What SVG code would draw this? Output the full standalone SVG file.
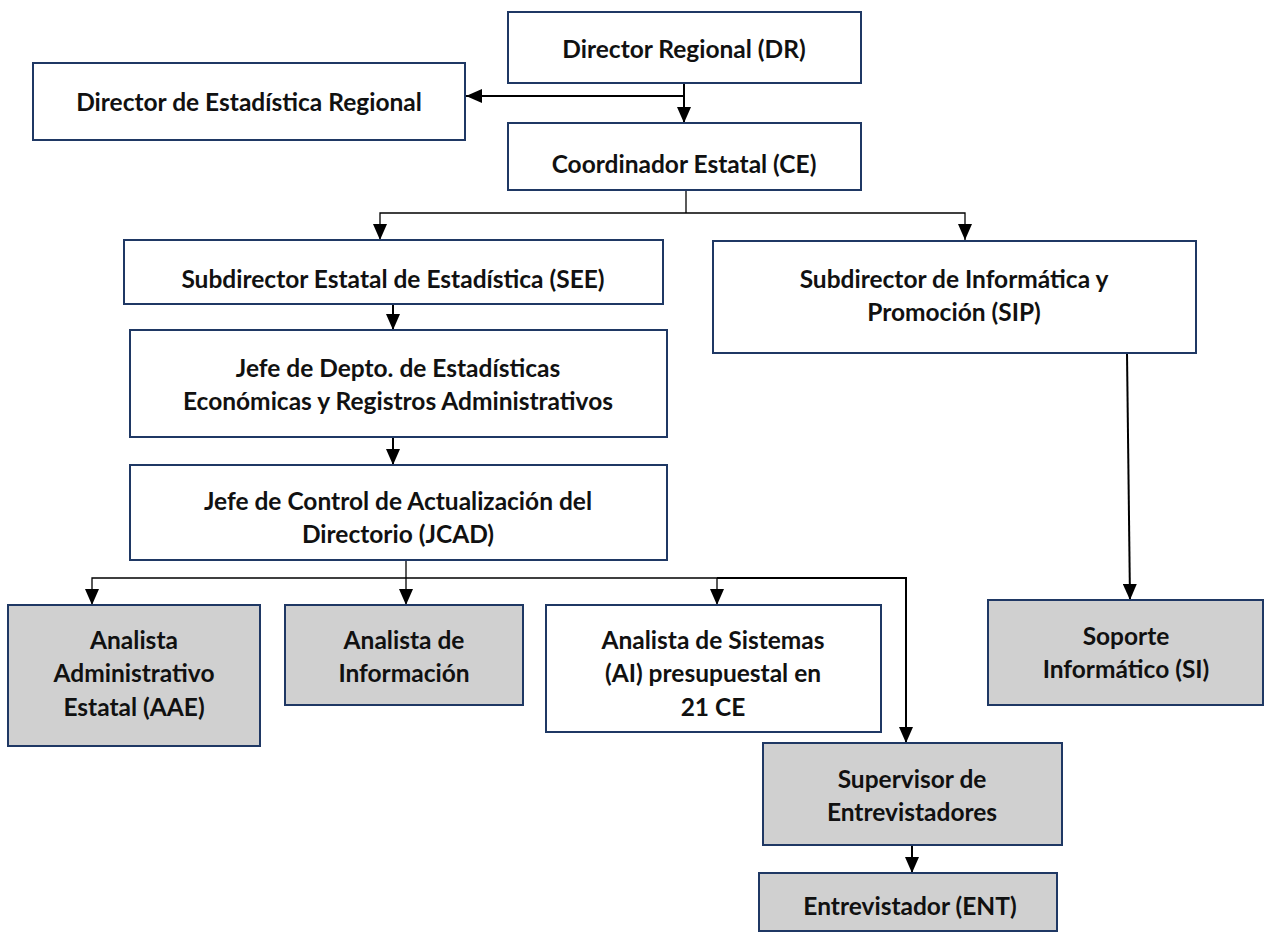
<svg xmlns="http://www.w3.org/2000/svg" width="1265" height="934" viewBox="0 0 1265 934">
<style>
.box{fill:#ffffff;stroke:#1f3864;stroke-width:2}
.grey{fill:#d0d0d0;stroke:#1f3864;stroke-width:2}
text{font-family:"Lato","Liberation Sans",sans-serif;font-weight:bold;font-size:24.5px;fill:#111;text-anchor:middle}
.thick{fill:none;stroke:#000;stroke-width:2}
.thin{fill:none;stroke:#000;stroke-width:1.3}
</style>
<defs>
<marker id="ah" markerUnits="userSpaceOnUse" markerWidth="16" markerHeight="14" refX="16" refY="7" orient="auto">
<path d="M0,0 L16,7 L0,14 z" fill="#000"/>
</marker>
</defs>
<rect width="1265" height="934" fill="#fff"/>
<g id="connectors">
<path class="thick" d="M684,83 V123" marker-end="url(#ah)"/>
<path class="thick" d="M684,96 H466" marker-end="url(#ah)"/>
<path class="thin" d="M686,190 V213"/>
<path class="thin" d="M686,213 H380 V240" marker-end="url(#ah)"/>
<path class="thin" d="M686,213 H965 V240" marker-end="url(#ah)"/>
<path class="thick" d="M393,305 V330" marker-end="url(#ah)"/>
<path class="thick" d="M393,438 V465" marker-end="url(#ah)"/>
<path class="thin" d="M406,561 V605" marker-end="url(#ah)"/>
<path class="thin" d="M406,578 H92 V605" marker-end="url(#ah)"/>
<path class="thin" d="M406,578 H717 V605" marker-end="url(#ah)"/>
<path class="thick" d="M717,578 H906 V743" marker-end="url(#ah)"/>
<path class="thick" d="M1127,353 L1130,600" marker-end="url(#ah)"/>
<path class="thick" d="M912,845 V873" marker-end="url(#ah)"/>
</g>
<g id="dr"><rect class="box" x="508" y="12" width="353" height="71"/><text x="684" y="58">Director Regional (DR)</text></g>
<g id="der"><rect class="box" x="33" y="63" width="432" height="77"/><text x="249" y="111">Director de Estadística Regional</text></g>
<g id="ce"><rect class="box" x="508" y="123" width="353" height="67"/><text x="684" y="173">Coordinador Estatal (CE)</text></g>
<g id="see"><rect class="box" x="124" y="240" width="539" height="64"/><text x="393" y="288">Subdirector Estatal de Estadística (SEE)</text></g>
<g id="sip"><rect class="box" x="713" y="241" width="483" height="112"/><text x="954" y="288">Subdirector de Informática y</text><text x="954" y="321">Promoción (SIP)</text></g>
<g id="jdea"><rect class="box" x="130" y="330" width="537" height="107"/><text x="398" y="377">Jefe de Depto. de Estadísticas</text><text x="398" y="410">Económicas y Registros Administrativos</text></g>
<g id="jcad"><rect class="box" x="130" y="465" width="537" height="95"/><text x="398" y="510">Jefe de Control de Actualización del</text><text x="398" y="543">Directorio (JCAD)</text></g>
<g id="aae"><rect class="grey" x="8" y="605" width="252" height="141"/><text x="134" y="649">Analista</text><text x="134" y="682">Administrativo</text><text x="134" y="716">Estatal (AAE)</text></g>
<g id="adi"><rect class="grey" x="285" y="605" width="238" height="100"/><text x="404" y="649">Analista de</text><text x="404" y="682">Información</text></g>
<g id="ads"><rect class="box" x="546" y="605" width="335" height="127"/><text x="713" y="649">Analista de Sistemas</text><text x="713" y="682">(AI) presupuestal en</text><text x="713" y="716">21 CE</text></g>
<g id="si"><rect class="grey" x="988" y="600" width="275" height="105"/><text x="1126" y="645">Soporte</text><text x="1126" y="678">Informático (SI)</text></g>
<g id="sup"><rect class="grey" x="763" y="743" width="299" height="102"/><text x="912" y="788">Supervisor de</text><text x="912" y="821">Entrevistadores</text></g>
<g id="ent"><rect class="grey" x="759" y="873" width="298" height="58"/><text x="910" y="915">Entrevistador (ENT)</text></g>
</svg>
